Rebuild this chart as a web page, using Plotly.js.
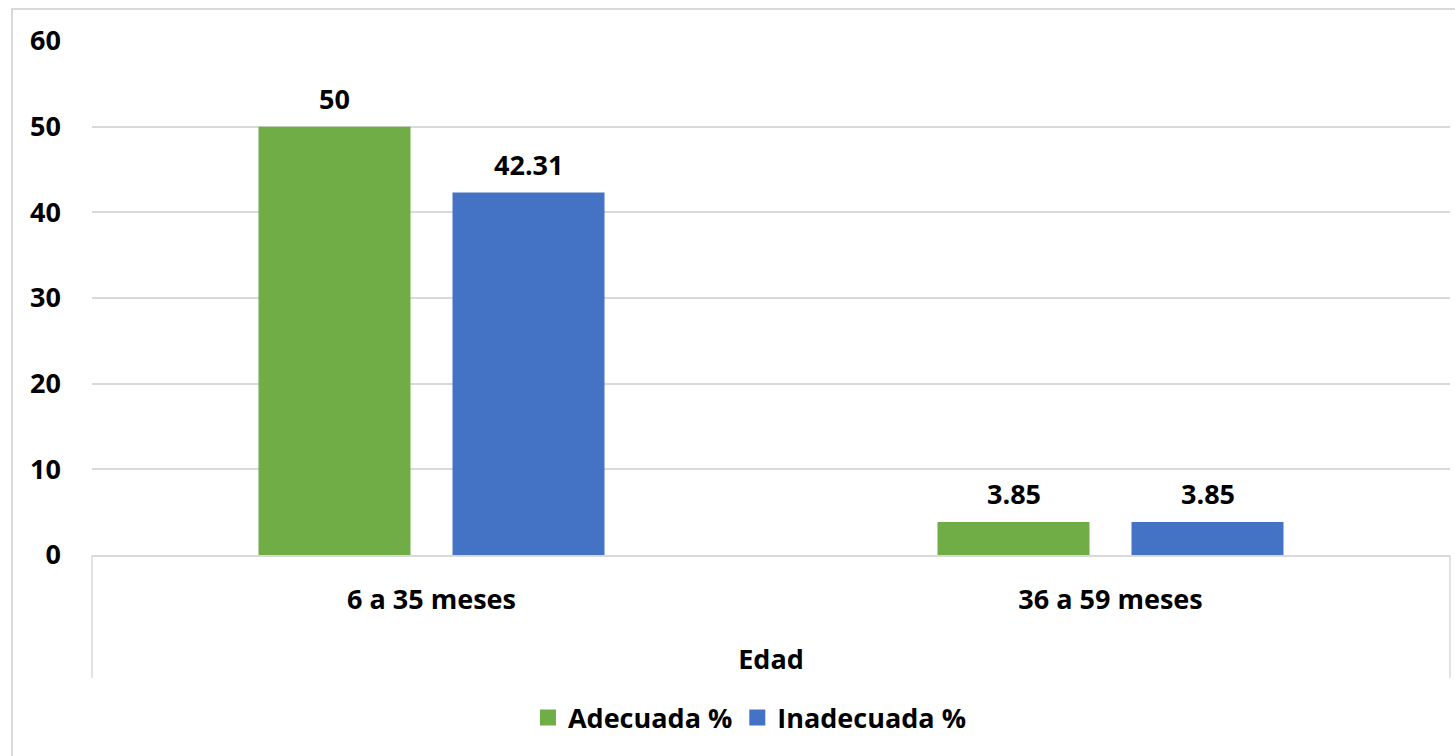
<!DOCTYPE html>
<html>
<head>
<meta charset="utf-8">
<script src="https://cdn.plot.ly/plotly-3.0.1.min.js"></script>
<style>
  html, body { margin: 0; padding: 0; background: #ffffff; }
  #chart { width: 1455px; height: 756px; }
</style>
</head>
<body>
<div id="chart"></div>
<script>
// Grupos de edad y porcentajes por tipo de alimentación
const categorias = ['6 a 35 meses', '36 a 59 meses'];
const adecuada = [50, 3.85];
const inadecuada = [42.31, 3.85];
const nombresSeries = ['Adecuada %', 'Inadecuada %'];
const coloresSeries = ['#70AD47', '#4472C4'];

const fuente = '"Open Sans", Lato, Arial, sans-serif';
const gris = '#d9d9d9';
const bargap = 0.4286;
const bargroupgap = 0.2165;

const series = [adecuada, inadecuada];

const traces = series.map((vals, i) => ({
  type: 'bar',
  x: categorias,
  y: vals,
  name: nombresSeries[i],
  marker: { color: coloresSeries[i] },
  showlegend: false,
  hoverinfo: 'x+y'
}));

// Legend entries with larger square swatches
series.forEach((vals, i) => {
  traces.push({
    type: 'scatter',
    mode: 'markers',
    x: [null],
    y: [null],
    name: nombresSeries[i],
    marker: { symbol: 'square', size: 16, color: coloresSeries[i] },
    showlegend: true,
    hoverinfo: 'skip'
  });
});

// Value labels above each bar, placed at the centre of each grouped bar
const slot = (1 - bargap) / series.length;
const annotations = [];
series.forEach((vals, i) => {
  vals.forEach((v, j) => {
    annotations.push({
      x: j + (i - (series.length - 1) / 2) * slot,
      y: v,
      xref: 'x',
      yref: 'y',
      text: String(v),
      showarrow: false,
      yanchor: 'bottom',
      yshift: 8,
      font: { family: fuente, size: 27, color: '#000000', weight: 'bold' }
    });
  });
});

const layout = {
  width: 1455,
  height: 756,
  margin: { l: 92, r: 5, t: 41, b: 201 },
  paper_bgcolor: '#ffffff',
  plot_bgcolor: '#ffffff',
  barmode: 'group',
  bargap: bargap,
  bargroupgap: bargroupgap,
  font: { family: fuente, color: '#000000' },
  xaxis: {
    type: 'category',
    showline: true,
    linecolor: gris,
    linewidth: 1.5,
    showgrid: false,
    ticks: '',
    ticklabelstandoff: 20,
    tickfont: { family: fuente, size: 27, color: '#000000', weight: 'bold' },
    title: {
      text: 'Edad',
      standoff: 34,
      font: { family: fuente, size: 27, color: '#000000', weight: 'bold' }
    }
  },
  yaxis: {
    range: [0, 60],
    dtick: 10,
    tick0: 0,
    showgrid: true,
    gridcolor: gris,
    gridwidth: 1.5,
    zeroline: false,
    showline: false,
    ticks: '',
    ticklabelstandoff: 30,
    tickfont: { family: fuente, size: 27, color: '#000000', weight: 'bold' }
  },
  legend: {
    orientation: 'h',
    x: 0.4845,
    xanchor: 'center',
    y: -0.317,
    yanchor: 'middle',
    font: { family: fuente, size: 27, color: '#000000', weight: 'bold' },
    itemclick: false,
    itemdoubleclick: false
  },
  annotations: annotations,
  shapes: [
    // outer boundaries of the category axis
    { type: 'line', xref: 'paper', yref: 'paper', x0: 0, x1: 0, y0: 0, y1: -0.2393,
      line: { color: gris, width: 1.5 } },
    { type: 'line', xref: 'paper', yref: 'paper', x0: 1, x1: 1, y0: 0, y1: -0.2393,
      line: { color: gris, width: 1.5 } },
    // chart area border
    { type: 'rect', xref: 'paper', yref: 'paper', x0: -0.0589, x1: 1.1, y0: -0.6, y1: 1.0623,
      line: { color: gris, width: 2 } }
  ]
};

Plotly.newPlot('chart', traces, layout, { displayModeBar: false, responsive: false });
</script>
</body>
</html>
